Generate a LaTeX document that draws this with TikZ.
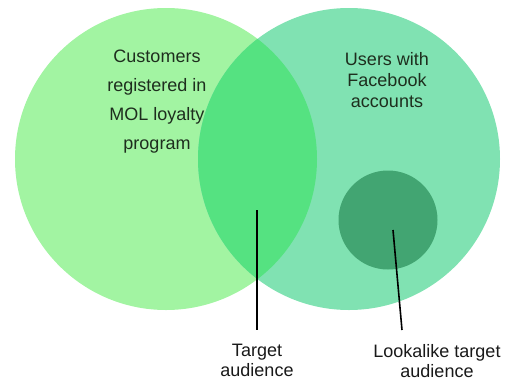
\documentclass[tikz,border=0pt]{standalone}
\usepackage{fontspec}
\setmainfont{Liberation Sans}
\usetikzlibrary{calc}

\definecolor{loyal}{HTML}{A2F4A2}
\definecolor{fbook}{HTML}{80E2B2}
\definecolor{both}{HTML}{55E281}
\definecolor{looka}{HTML}{42A572}
\definecolor{ink}{HTML}{1E2E1E}

\tikzset{
  setlabel/.style={align=center, text=ink, inner sep=0pt},
  audlabel/.style={align=center, text=black!90, anchor=north, inner xsep=0pt, inner ysep=14pt,
    font=\fontsize{18}{20}\selectfont},
  pointer/.style={line width=1.6pt, black}
}

\begin{document}
\begin{tikzpicture}[x=1pt, y=-1pt]
    \useasboundingbox (0,0) rectangle (506,381);

    \coordinate (L) at (166,159);
    \coordinate (R) at (349,159);
    \coordinate (S) at (388,220);

    \fill[loyal] (L) circle (151pt);
    \fill[fbook] (R) circle (151pt);
    \begin{scope}
        \clip (L) circle (151pt);
        \fill[both] (R) circle (151pt);
    \end{scope}
    \fill[looka] (S) circle (49.5pt);

    \node[setlabel, font=\fontsize{18}{29}\selectfont] (mol) at (157,101.5)
        {Customers\\registered in\\MOL loyalty\\program};
    \node[setlabel, font=\fontsize{18}{21}\selectfont] (fb) at (387,80)
        {Users with\\Facebook\\accounts};

    \node[audlabel] (target) at (257,330) {Target\\audience};
    \node[audlabel] (lookalike) at (437,330) {Lookalike target\\audience};

    \coordinate (tA) at (257,210);
    \coordinate (lA) at (393,230);
    \coordinate (lB) at (402,330);

    \draw[pointer] (tA) -- (target.north);
    \draw[pointer] (lA) -- (lB);
\end{tikzpicture}
\end{document}
